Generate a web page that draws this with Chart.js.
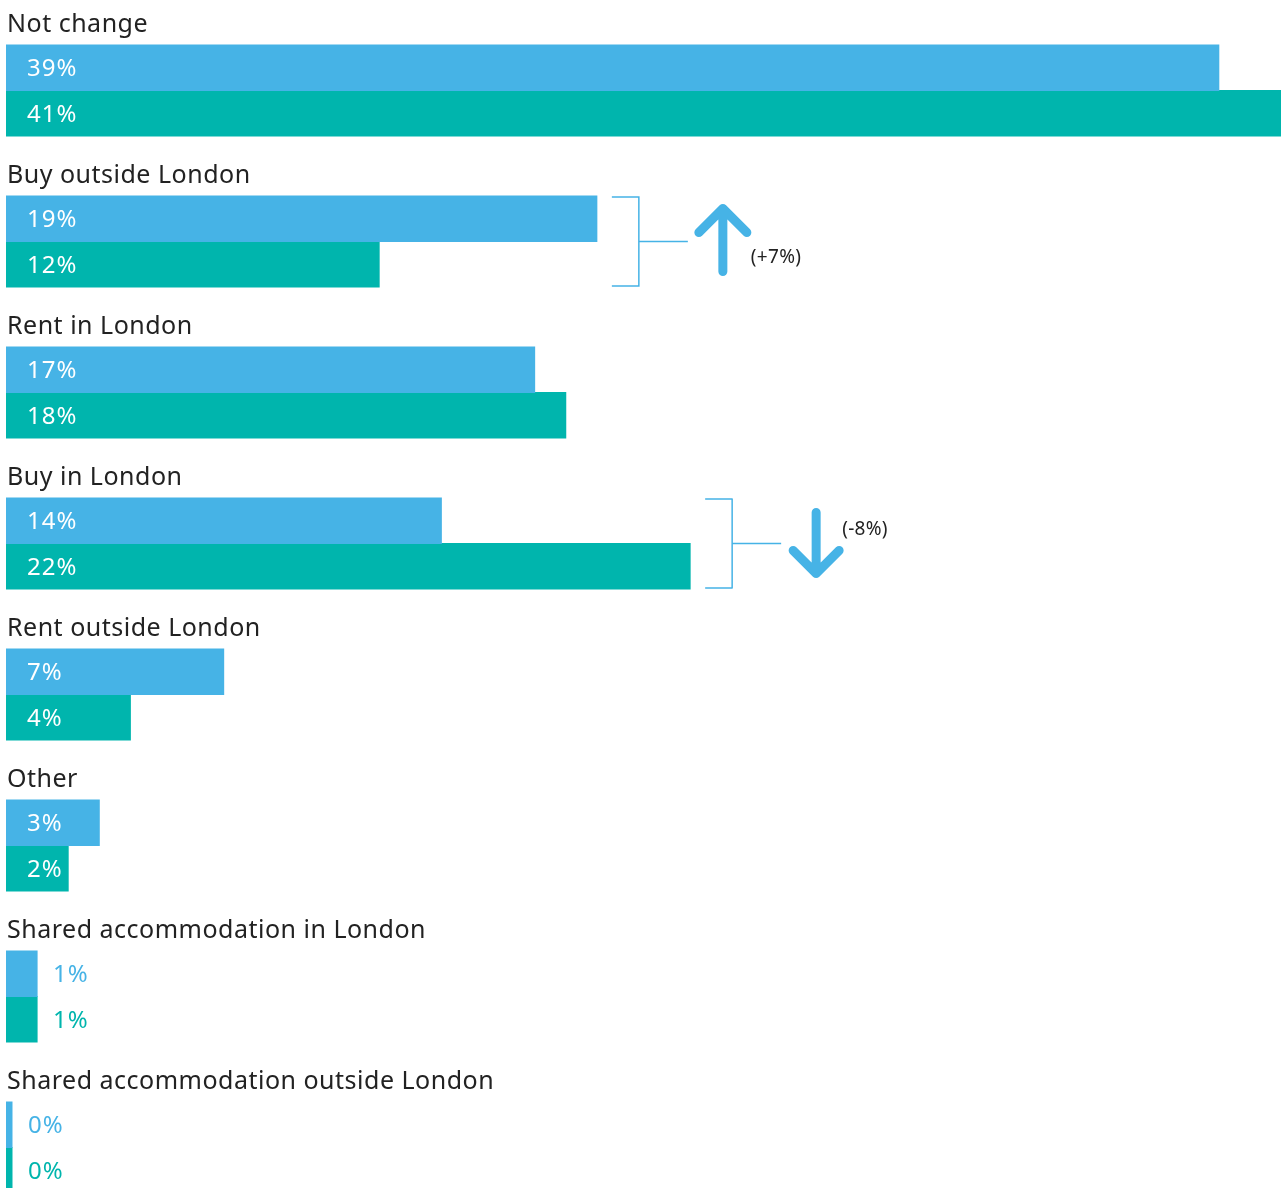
<!DOCTYPE html>
<html>
<head>
<meta charset="utf-8">
<script src="https://cdn.jsdelivr.net/npm/chart.js@4.4.1/dist/chart.umd.min.js"></script>
<style>
  html, body { margin: 0; padding: 0; background: #fff; overflow: hidden; }
  body { width: 1283px; height: 1188px; }
  #wrap { position: relative; width: 1283px; height: 1223px; }
</style>
</head>
<body>
<div id="wrap"><canvas id="chart-bars"></canvas></div>
<script>
const categories = [
  'Not change',
  'Buy outside London',
  'Rent in London',
  'Buy in London',
  'Rent outside London',
  'Other',
  'Shared accommodation in London',
  'Shared accommodation outside London',
];
const blueValues = [39, 19, 17, 14, 7, 3, 1, 0];
const tealValues = [41, 12, 18, 22, 4, 2, 1, 0];
const changeCategories = ['Buy outside London', 'Buy in London'];
const changeLabels = ['(+7%)', '(-8%)'];
const changeDirections = ['up', 'down'];

const BLUE = '#46b3e6';
const TEAL = '#00b5ad';
const FONT = '"Noto Sans", sans-serif';

const labelsPlugin = {
  id: 'groupLabels',
  afterDatasetsDraw(chart) {
    const { ctx } = chart;
    const metaBlue = chart.getDatasetMeta(0);
    const metaTeal = chart.getDatasetMeta(1);
    ctx.save();

    // category titles above each pair of bars
    ctx.font = `25px ${FONT}`;
    ctx.letterSpacing = '0.5px';
    ctx.fillStyle = '#222';
    ctx.textBaseline = 'alphabetic';
    ctx.textAlign = 'left';
    metaBlue.data.forEach((bar, i) => {
      const top = bar.y - bar.height / 2;
      ctx.fillText(categories[i], 7, top - 13);
    });

    // value labels
    ctx.font = `24px ${FONT}`;
    ctx.letterSpacing = '1px';
    ctx.textBaseline = 'middle';
    chart.data.datasets.forEach((ds, di) => {
      chart.getDatasetMeta(di).data.forEach((bar, i) => {
        const text = `${ds.data[i]}%`;
        const w = ctx.measureText(text).width;
        if (bar.base + 21 + w + 4 < bar.x) {
          ctx.fillStyle = '#fff';
          ctx.fillText(text, bar.base + 21, bar.y + 1.5);
        } else {
          ctx.fillStyle = ds.backgroundColor;
          ctx.fillText(text, bar.x + 16, bar.y + 1.5);
        }
      });
    });

    // change brackets with arrows
    changeCategories.forEach((cat, k) => {
      const i = categories.indexOf(cat);
      const b = metaBlue.data[i];
      const t = metaTeal.data[i];
      const top = b.y - b.height / 2 + 1;
      const bottom = t.y + t.height / 2 - 1;
      const mid = (top + bottom) / 2;
      const bx = Math.max(b.x, t.x) + 15;

      ctx.strokeStyle = BLUE;
      ctx.lineWidth = 1.5;
      ctx.lineCap = 'butt';
      ctx.beginPath();
      ctx.moveTo(bx, top);
      ctx.lineTo(bx + 27, top);
      ctx.lineTo(bx + 27, bottom);
      ctx.lineTo(bx, bottom);
      ctx.moveTo(bx + 27, mid);
      ctx.lineTo(bx + 76, mid);
      ctx.stroke();

      const ax = bx + 111;
      ctx.lineWidth = 9;
      ctx.lineCap = 'round';
      ctx.lineJoin = 'round';
      ctx.beginPath();
      if (changeDirections[k] === 'up') {
        const tip = mid - 33;
        ctx.moveTo(ax, mid + 30);
        ctx.lineTo(ax, tip);
        ctx.moveTo(ax - 24, tip + 24);
        ctx.lineTo(ax, tip);
        ctx.lineTo(ax + 24, tip + 24);
      } else {
        const tip = mid + 30;
        ctx.moveTo(ax, mid - 31);
        ctx.lineTo(ax, tip);
        ctx.moveTo(ax - 23, tip - 23);
        ctx.lineTo(ax, tip);
        ctx.lineTo(ax + 23, tip - 23);
      }
      ctx.stroke();

      ctx.font = `19px ${FONT}`;
      ctx.letterSpacing = '0.3px';
      ctx.fillStyle = '#222';
      ctx.textBaseline = 'middle';
      if (changeDirections[k] === 'up') {
        ctx.fillText(changeLabels[k], ax + 28, mid + 16);
      } else {
        ctx.fillText(changeLabels[k], ax + 26, mid - 14);
      }
    });

    ctx.restore();
  },
};

const canvas = document.getElementById('chart-bars');
const ctx = canvas.getContext('2d');

const chart = new Chart(ctx, {
  type: 'bar',
  data: {
    labels: categories,
    datasets: [
      {
        label: 'Blue',
        data: blueValues,
        backgroundColor: BLUE,
        borderWidth: 0,
        inflateAmount: 0.5,
        minBarLength: 6,
        categoryPercentage: 91 / 151,
        barPercentage: 1,
      },
      {
        label: 'Teal',
        data: tealValues,
        backgroundColor: TEAL,
        borderWidth: 0,
        inflateAmount: 0.5,
        minBarLength: 6,
        categoryPercentage: 91 / 151,
        barPercentage: 1,
      },
    ],
  },
  options: {
    indexAxis: 'y',
    responsive: true,
    maintainAspectRatio: false,
    animation: false,
    layout: { padding: { left: 6, right: 2, top: 15, bottom: 0 } },
    plugins: {
      legend: { display: false },
      tooltip: { enabled: false },
    },
    scales: {
      x: { display: false, min: 0, max: 41 },
      y: { display: false, grid: { display: false } },
    },
  },
  plugins: [labelsPlugin],
});
</script>
</body>
</html>
